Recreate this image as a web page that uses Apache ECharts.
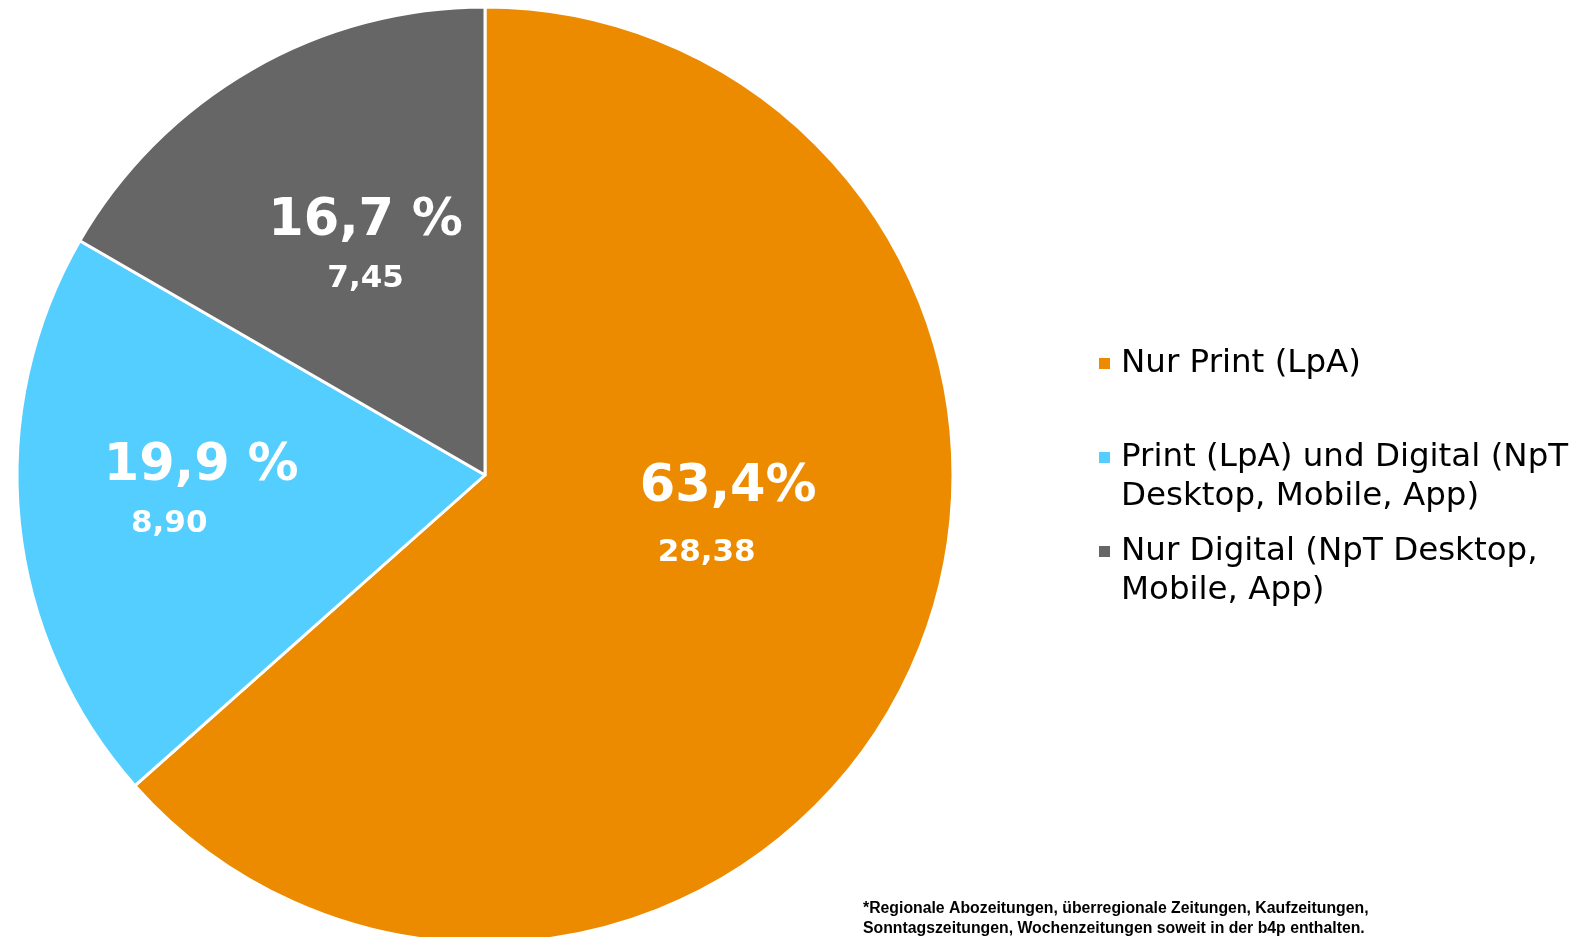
<!DOCTYPE html>
<html>
<head>
<meta charset="utf-8">
<script src="https://cdn.jsdelivr.net/npm/echarts@6/dist/echarts.min.js"></script>
<style>
html, body { margin: 0; padding: 0; background: #fff; }
#chart { width: 1596px; height: 937px; }
</style>
</head>
<body>
<div id="chart"></div>
<script>
// ---- data ----
const categories = ['Nur Print (LpA)', 'Print (LpA) und Digital (NpT\nDesktop, Mobile, App)', 'Nur Digital (NpT Desktop,\nMobile, App)'];
const values = [28.38, 8.90, 7.45];
const pctLabels = ['63,4%', '19,9 %', '16,7 %'];
const colors = ['#EC8B00', '#53CEFF', '#666666'];
const footnote = '*Regionale Abozeitungen, überregionale Zeitungen, Kaufzeitungen,\nSonntagszeitungen, Wochenzeitungen soweit in der b4p enthalten.';

// ---- label placement tweaks (style only) ----
const labelShift = [[27, -54], [-48, -4], [-1, -20]];

const font = 'DejaVu Sans, Verdana, sans-serif';
const chart = echarts.init(document.getElementById('chart'));

const legendBase = {
  orient: 'vertical',
  left: 1097,
  padding: 0,
  itemWidth: 13,
  itemHeight: 13,
  icon: 'rect',
  selectedMode: false,
  textStyle: { fontFamily: font, fontSize: 32.5, color: '#000', lineHeight: 39, padding: [0, 0, 0, 5] }
};
const legendTops = [344, 399, 493];

option = {
  backgroundColor: '#fff',
  animation: false,
  color: colors,
  legend: categories.map((c, i) => Object.assign({}, legendBase, {
    top: legendTops[i],
    data: [c],
    formatter: n => (n.indexOf('\n') >= 0 ? '\n' + n : n)
  })),
  graphic: [{
    type: 'text',
    left: 863,
    top: 899,
    style: {
      text: footnote,
      fontFamily: 'Liberation Sans, Arial, sans-serif',
      fontWeight: 'bold',
      fontSize: 15.8,
      lineHeight: 20,
      fill: '#000'
    }
  }],
  series: [{
    type: 'pie',
    center: [485, 475],
    radius: 468,
    startAngle: 90,
    clockwise: true,
    avoidLabelOverlap: false,
    itemStyle: { borderColor: '#fff', borderWidth: 3 },
    emphasis: { disabled: true },
    label: {
      show: true,
      position: 'inside',
      color: '#fff',
      fontFamily: font,
      fontWeight: 'bold',
      formatter: p => '{p' + p.dataIndex + '|' + pctLabels[p.dataIndex] + '}\n{v' + p.dataIndex + '|' + p.value.toFixed(2).replace('.', ',') + '}',
      rich: {
        p0: { fontSize: 51, fontWeight: 'bold', fontFamily: font, color: '#fff', lineHeight: 70 },
        v0: { fontSize: 31, fontWeight: 'bold', fontFamily: font, color: '#fff', lineHeight: 60, padding: [0, 43, 0, 0] },
        p1: { fontSize: 51, fontWeight: 'bold', fontFamily: font, color: '#fff', lineHeight: 58 },
        v1: { fontSize: 31, fontWeight: 'bold', fontFamily: font, color: '#fff', lineHeight: 57, padding: [0, 64, 0, 0] },
        p2: { fontSize: 51, fontWeight: 'bold', fontFamily: font, color: '#fff', lineHeight: 58 },
        v2: { fontSize: 31, fontWeight: 'bold', fontFamily: font, color: '#fff', lineHeight: 56 }
      }
    },
    labelLayout: p => ({ dx: labelShift[p.dataIndex][0], dy: labelShift[p.dataIndex][1] }),
    labelLine: { show: false },
    data: categories.map((c, i) => ({ name: c, value: values[i] }))
  }]
};
chart.setOption(option);
</script>
</body>
</html>
